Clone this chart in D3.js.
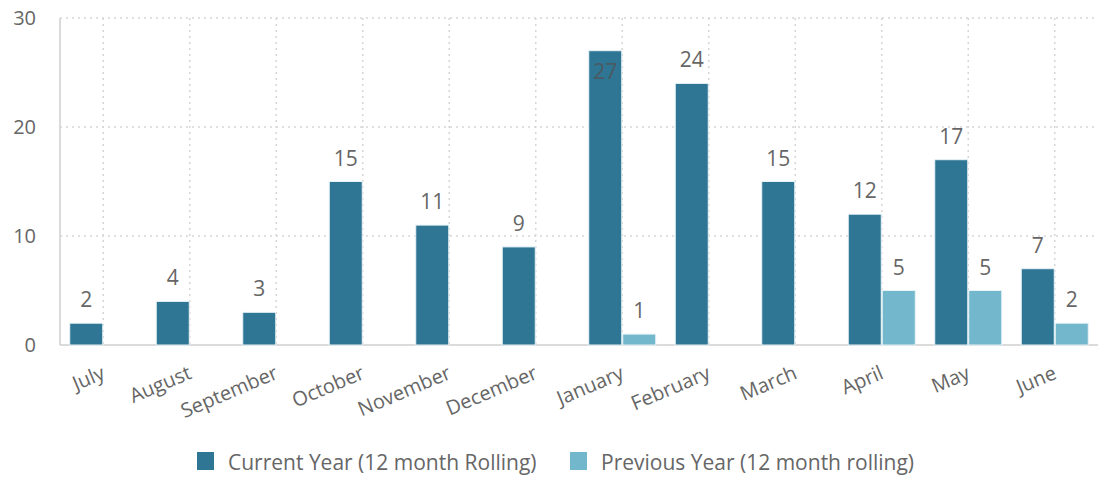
<!DOCTYPE html>
<html><head><meta charset="utf-8">
<script src="https://cdn.jsdelivr.net/npm/d3@7"></script>
<style>body{margin:0;background:#fff;} text{font-family:"Open Sans",sans-serif;}</style>
</head><body>
<svg id="chart" width="1100" height="479"></svg>
<script>
const categories = ["July","August","September","October","November","December","January","February","March","April","May","June"];
const currentYear = [2,4,3,15,11,9,27,24,15,12,17,7];
const previousYear = [null,null,null,null,null,null,1,null,null,5,5,2];
const seriesNames = ["Current Year (12 month Rolling)","Previous Year (12 month rolling)"];
const yTicks = [0,10,20,30];
const colors = ["#2f7594","#72b7cb"];

(function(){
const svg = d3.select("#chart");
const pLeft = 60, pRight = 1098, pTop = 18, pBottom = 345;
const x = d3.scaleBand().domain(categories).range([pLeft, pRight]);
const y = d3.scaleLinear().domain([0,30]).range([pBottom, pTop]);
const barW = 33, gap = 1;

// horizontal grid
svg.append("g").selectAll("line").data(yTicks.filter(d=>d>0)).join("line")
  .attr("x1", pLeft).attr("x2", pRight).attr("y1", d=>y(d)).attr("y2", d=>y(d))
  .attr("stroke","#d6d6d6").attr("stroke-width",1.5).attr("stroke-dasharray","2,4");
// vertical grid at band centers
svg.append("g").selectAll("line").data(categories).join("line")
  .attr("x1", d=>x(d)+x.bandwidth()/2).attr("x2", d=>x(d)+x.bandwidth()/2)
  .attr("y1", pTop).attr("y2", pBottom)
  .attr("stroke","#d6d6d6").attr("stroke-width",1.5).attr("stroke-dasharray","2,4");

// axes lines
svg.append("line").attr("x1",pLeft).attr("x2",pLeft).attr("y1",pTop).attr("y2",pBottom).attr("stroke","#cfcfcf").attr("stroke-width",1.5);
svg.append("line").attr("x1",pLeft).attr("x2",pRight).attr("y1",pBottom).attr("y2",pBottom).attr("stroke","#cfcfcf").attr("stroke-width",1.5);

// y labels
svg.append("g").selectAll("text").data(yTicks).join("text")
  .attr("x", 36).attr("y", d=>y(d)).attr("dy","0.35em").attr("text-anchor","end")
  .attr("font-size",20).attr("fill","#666").text(d=>d);

// x labels
svg.append("g").selectAll("text").data(categories).join("text")
  .attr("text-anchor","end").attr("font-size",20).attr("fill","#666")
  .attr("transform", d=>`translate(${x(d)+x.bandwidth()/2+3},${pBottom+33}) rotate(-23)`)
  .text(d=>d);

function drawSeries(vals, idx) {
  const data = categories.map((c,i)=>({c, v: vals[i]})).filter(d=>d.v!=null);
  const g = svg.append("g");
  const bx = d => x(d.c)+x.bandwidth()/2 + (idx===0 ? -barW - gap/2 : gap/2);
  const inside = d => y(d.v) - 16 < 45;
  g.selectAll("rect").data(data).join("rect")
    .attr("x", bx).attr("width", barW)
    .attr("y", d=>y(d.v)).attr("height", d=>pBottom-y(d.v))
    .attr("fill", colors[idx]).attr("stroke","#e8f3f7").attr("stroke-width",1);
  g.selectAll("text").data(data).join("text")
    .attr("x", d=>bx(d)+barW/2)
    .attr("y", d=> inside(d) ? y(d.v)+28 : y(d.v)-16)
    .attr("text-anchor","middle").attr("font-size",21)
    .attr("fill", d=> inside(d) ? "#4a5a62" : "#666")
    .text(d=>d.v);
}
drawSeries(currentYear,0);
drawSeries(previousYear,1);

// legend
const legend = svg.append("g");
const lx = [197, 570];
seriesNames.forEach((n,i)=>{
  legend.append("rect").attr("x",lx[i]).attr("y",452).attr("width",17).attr("height",18).attr("fill",colors[i]);
  legend.append("text").attr("x",lx[i]+31).attr("y",463).attr("dy","0.35em")
    .attr("font-size",21).attr("fill","#666").text(n);
});
})();
</script>
</body></html>
